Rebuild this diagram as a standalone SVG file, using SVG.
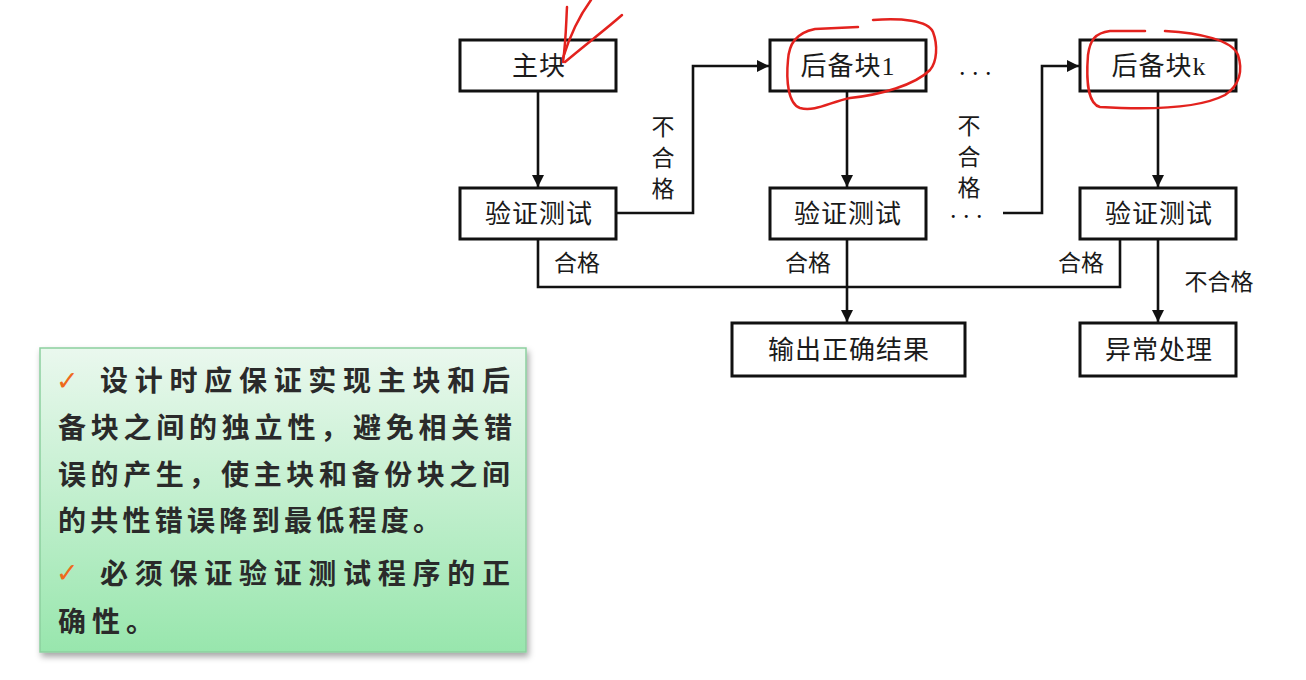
<svg xmlns="http://www.w3.org/2000/svg" width="1306" height="680" viewBox="0 0 1306 680">
<style>
.box{fill:#fff;stroke:#111;stroke-width:3}
.bt{font-family:"Liberation Serif","Noto Sans CJK SC",serif;font-size:26px;fill:#1a1a1a;text-anchor:middle;letter-spacing:1px}
.lb{font-family:"Noto Sans CJK SC",sans-serif;font-size:23px;fill:#1a1a1a;text-anchor:middle}
.ln{fill:none;stroke:#111;stroke-width:2.6}
.red{fill:none;stroke:#e3221e;stroke-width:2.5;stroke-linecap:round}
.tx{font-family:"Noto Sans CJK SC",sans-serif;font-size:28px;font-weight:bold;fill:#2a2a2a}
.ck{font-family:"DejaVu Sans",sans-serif;font-size:27px;fill:#ee6a1c}
.dots{font-family:"Liberation Serif",serif;font-size:18px;font-weight:bold;fill:#111;letter-spacing:2px}
</style>
<defs>
<marker id="ah" viewBox="0 0 12 12" refX="12" refY="6" markerWidth="12" markerHeight="12" markerUnits="userSpaceOnUse" orient="auto">
<path d="M0,0 L12,6 L0,12 Z" fill="#111"/>
</marker>
<linearGradient id="g" x1="0" y1="0" x2="0" y2="1">
<stop offset="0" stop-color="#eaf8ee"/>
<stop offset="1" stop-color="#98e6ad"/>
</linearGradient>
<filter id="sh" x="-5%" y="-5%" width="115%" height="115%">
<feDropShadow dx="2" dy="4" stdDeviation="3" flood-color="#000" flood-opacity="0.35"/>
</filter>
</defs>
<rect width="1306" height="680" fill="#fff"/>

<g id="connectors">
<path class="ln" d="M538,91 V187" marker-end="url(#ah)"/>
<path class="ln" d="M616,213 H693 V66 H769" marker-end="url(#ah)"/>
<path class="ln" d="M847,91 V187" marker-end="url(#ah)"/>
<path class="ln" d="M1003,213 H1042 V66 H1079" marker-end="url(#ah)"/>
<path class="ln" d="M1158,91 V187" marker-end="url(#ah)"/>
<path class="ln" d="M538,240 V287 H1120 V240"/>
<path class="ln" d="M847,240 V322" marker-end="url(#ah)"/>
<path class="ln" d="M1158,240 V322" marker-end="url(#ah)"/>
<text class="lb"><tspan x="663" y="135">不</tspan><tspan x="663" dy="31">合</tspan><tspan x="663" dy="31">格</tspan></text>
<text class="lb"><tspan x="969" y="134">不</tspan><tspan x="969" dy="31">合</tspan><tspan x="969" dy="31">格</tspan></text>
<text class="lb" x="577" y="271">合格</text>
<text class="lb" x="808" y="271">合格</text>
<text class="lb" x="1081" y="271">合格</text>
<text class="lb" x="1219" y="290">不合格</text>
<text class="dots" x="960" y="75">. . .</text>
<text class="dots" x="951" y="218">. . .</text>
</g>

<g id="n_main"><rect class="box" x="460" y="40" width="156" height="51"/><text class="bt" x="539" y="75">主块</text></g>
<g id="n_test1"><rect class="box" x="460" y="188" width="156" height="51"/><text class="bt" x="539" y="223">验证测试</text></g>
<g id="n_backup1"><rect class="box" x="770" y="40" width="156" height="51"/><text class="bt" x="848" y="75">后备块1</text></g>
<g id="n_test2"><rect class="box" x="770" y="188" width="156" height="51"/><text class="bt" x="848" y="223">验证测试</text></g>
<g id="n_backupk"><rect class="box" x="1080" y="40" width="156" height="51"/><text class="bt" x="1159" y="75">后备块k</text></g>
<g id="n_test3"><rect class="box" x="1080" y="188" width="156" height="51"/><text class="bt" x="1159" y="223">验证测试</text></g>
<g id="n_out"><rect class="box" x="732" y="323" width="233" height="53"/><text class="bt" x="849" y="359">输出正确结果</text></g>
<g id="n_exc"><rect class="box" x="1080" y="323" width="156" height="53"/><text class="bt" x="1159" y="359">异常处理</text></g>

<g id="annotations">
<path class="red" d="M563,62 C566,40 566,25 567,7"/>
<path class="red" d="M563,58 C570,35 580,15 591,0"/>
<path class="red" d="M565,62 C585,45 605,30 622,15"/>
<path class="red" d="M873,20 C900,18 928,20 933,32 C938,45 937,62 930,70 C915,85 880,95 850,98 C830,102 815,112 800,108 C788,104 786,80 788,60 C789,45 795,33 815,29 L858,27"/>
<path class="red" d="M1165,31 C1200,33 1232,40 1238,55 C1243,70 1240,85 1225,95 C1200,108 1150,110 1100,107 C1088,104 1086,80 1088,55 C1090,40 1095,33 1110,31 L1145,31"/>
</g>

<g id="note">
<rect x="40" y="348" width="486" height="304" fill="url(#g)" stroke="#8ccf9f" stroke-width="1.5" filter="url(#sh)"/>
<text class="ck" x="56" y="390">✓</text>
<text class="ck" x="56" y="582">✓</text>
<text class="tx" x="100" y="391" textLength="410" lengthAdjust="spacing">设计时应保证实现主块和后</text>
<text class="tx" x="58" y="438" textLength="454" lengthAdjust="spacing">备块之间的独立性，避免相关错</text>
<text class="tx" x="58" y="485" textLength="452" lengthAdjust="spacing">误的产生，使主块和备份块之间</text>
<text class="tx" x="58" y="531" textLength="383" lengthAdjust="spacing">的共性错误降到最低程度。</text>
<text class="tx" x="100" y="584" textLength="410" lengthAdjust="spacing">必须保证验证测试程序的正</text>
<text class="tx" x="58" y="632" textLength="96" lengthAdjust="spacing">确性。</text>
</g>
</svg>
